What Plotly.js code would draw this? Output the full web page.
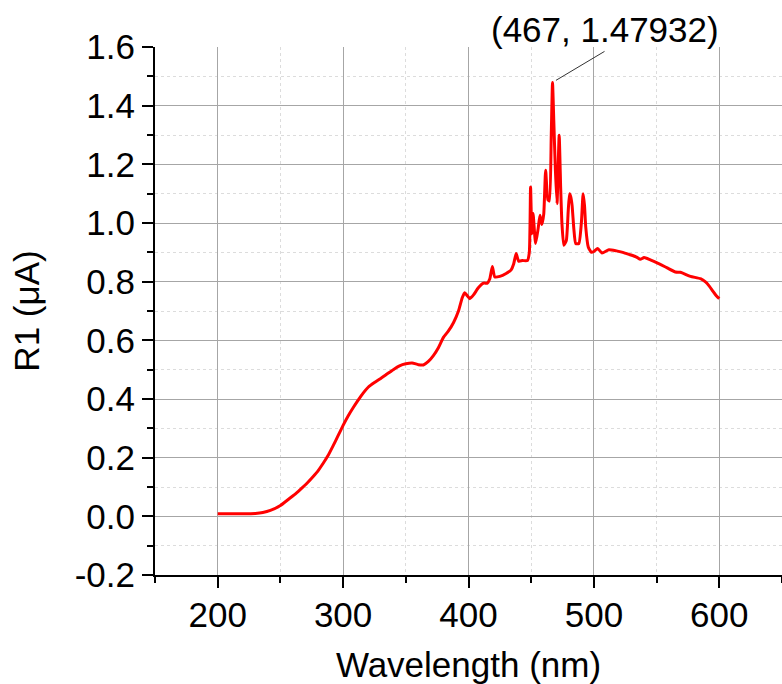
<!DOCTYPE html>
<html>
<head>
<meta charset="utf-8">
<script src="https://cdn.plot.ly/plotly-3.0.1.min.js"></script>
<style>html,body{margin:0;padding:0;background:#fff;}#chart{width:782px;height:684px;}</style>
</head>
<body>
<div id="chart"></div>
<script>
const wavelength = [200, 210, 220, 230, 236, 242, 250, 257, 261, 266, 271, 276, 280, 284, 288, 292, 296, 300, 304, 308, 312, 316, 320, 325, 330, 335, 340, 345, 350, 355, 360, 364, 368, 372, 376, 380, 384, 388, 392, 395, 397, 399, 401, 404, 408, 412, 415, 417, 419, 421, 425, 430, 434, 436, 438, 440, 443, 447, 448.5, 449.5, 450.5, 451.5, 453.5, 455.5, 457, 458.5, 460, 461.5, 463.3, 464.5, 466, 467, 468, 469.3, 470.6, 472.3, 473.5, 474.5, 476, 478, 479.5, 480.6, 481.5, 482.6, 484, 485.5, 488, 490, 491.4, 492.5, 493.5, 495.5, 498, 500, 503, 506.5, 512, 518, 523, 528, 534, 537, 540, 545, 550, 558, 565, 569, 577, 585, 589, 592, 595, 598, 600];
const current = [0.009, 0.009, 0.009, 0.010, 0.013, 0.020, 0.037, 0.060, 0.073, 0.092, 0.112, 0.135, 0.155, 0.180, 0.207, 0.240, 0.275, 0.310, 0.342, 0.370, 0.396, 0.420, 0.440, 0.456, 0.470, 0.485, 0.500, 0.513, 0.520, 0.523, 0.517, 0.516, 0.528, 0.548, 0.575, 0.610, 0.632, 0.660, 0.700, 0.745, 0.762, 0.752, 0.742, 0.755, 0.780, 0.795, 0.795, 0.810, 0.852, 0.816, 0.818, 0.828, 0.840, 0.860, 0.896, 0.870, 0.872, 0.872, 0.900, 1.123, 0.964, 1.032, 0.930, 0.980, 1.026, 0.995, 1.030, 1.180, 1.080, 1.075, 1.300, 1.47932, 1.350, 1.180, 1.066, 1.299, 1.120, 1.000, 0.924, 0.940, 1.040, 1.100, 1.090, 1.060, 0.980, 0.930, 0.930, 1.000, 1.100, 1.060, 0.986, 0.918, 0.900, 0.903, 0.913, 0.898, 0.909, 0.905, 0.900, 0.893, 0.884, 0.876, 0.882, 0.874, 0.865, 0.848, 0.833, 0.832, 0.818, 0.810, 0.799, 0.785, 0.767, 0.750, 0.742];
const xTickVals = [200, 300, 400, 500, 600];
const xTickText = ['200', '300', '400', '500', '600'];
const yTickVals = [-0.2, 0.0, 0.2, 0.4, 0.6, 0.8, 1.0, 1.2, 1.4, 1.6];
const yTickText = ['-0.2', '0.0', '0.2', '0.4', '0.6', '0.8', '1.0', '1.2', '1.4', '1.6'];
const peakX = 467;
const peakY = 1.47932;
const xTitle = 'Wavelength (nm)';
const yTitle = 'R1 (μA)';

const fontFam = 'Arial, "Liberation Sans", sans-serif';
const trace = {
  x: wavelength, y: current, type: 'scatter', mode: 'lines',
  line: {color: '#ff0000', width: 3, shape: 'spline', smoothing: 0.5},
  hoverinfo: 'skip'
};
const layout = {
  width: 782, height: 684,
  margin: {l: 155, r: 0, t: 47, b: 109},
  paper_bgcolor: '#fff', plot_bgcolor: '#fff',
  showlegend: false,
  font: {family: fontFam, color: '#000', size: 35},
  xaxis: {
    range: [150, 650], tickmode: 'array', tickvals: xTickVals, ticktext: xTickText,
    ticks: 'outside', ticklen: 11, tickwidth: 2, tickcolor: '#000',
    ticklabelstandoff: -3,
    showline: true, linecolor: '#000', linewidth: 2,
    showgrid: true, gridcolor: '#a6a6a6', gridwidth: 1,
    zeroline: false,
    minor: {dtick: 50, tick0: 0, ticks: 'outside', ticklen: 6, tickwidth: 2, tickcolor: '#000', showgrid: true, gridcolor: '#dcdcdc', griddash: 'dot', gridwidth: 1},
    tickfont: {size: 35, family: fontFam, color: '#000'},
    title: {text: xTitle, font: {size: 35, family: fontFam, color: '#000'}, standoff: 24},
    automargin: false
  },
  yaxis: {
    range: [-0.2, 1.6], tickmode: 'array', tickvals: yTickVals, ticktext: yTickText,
    ticks: 'outside', ticklen: 11, tickwidth: 2, tickcolor: '#000',
    showline: true, linecolor: '#000', linewidth: 2,
    showgrid: true, gridcolor: '#a6a6a6', gridwidth: 1,
    zeroline: false,
    minor: {dtick: 0.1, tick0: 0, ticks: 'outside', ticklen: 6, tickwidth: 2, tickcolor: '#000', showgrid: true, gridcolor: '#dcdcdc', griddash: 'dot', gridwidth: 1},
    tickfont: {size: 35, family: fontFam, color: '#000'},
    title: {text: yTitle, font: {size: 35, family: fontFam, color: '#000'}, standoff: 24},
    automargin: false
  },
  annotations: [{
    x: peakX, y: peakY, xref: 'x', yref: 'y',
    text: '(' + peakX + ', ' + peakY + ')',
    showarrow: true, arrowhead: 0, arrowwidth: 1, arrowcolor: '#333',
    ax: 52, ay: -31, standoff: 4,
    xanchor: 'center', yanchor: 'bottom',
    font: {size: 35, family: fontFam, color: '#000'}
  }]
};
Plotly.newPlot('chart', [trace], layout, {displayModeBar: false, staticPlot: true});
</script>
</body>
</html>
